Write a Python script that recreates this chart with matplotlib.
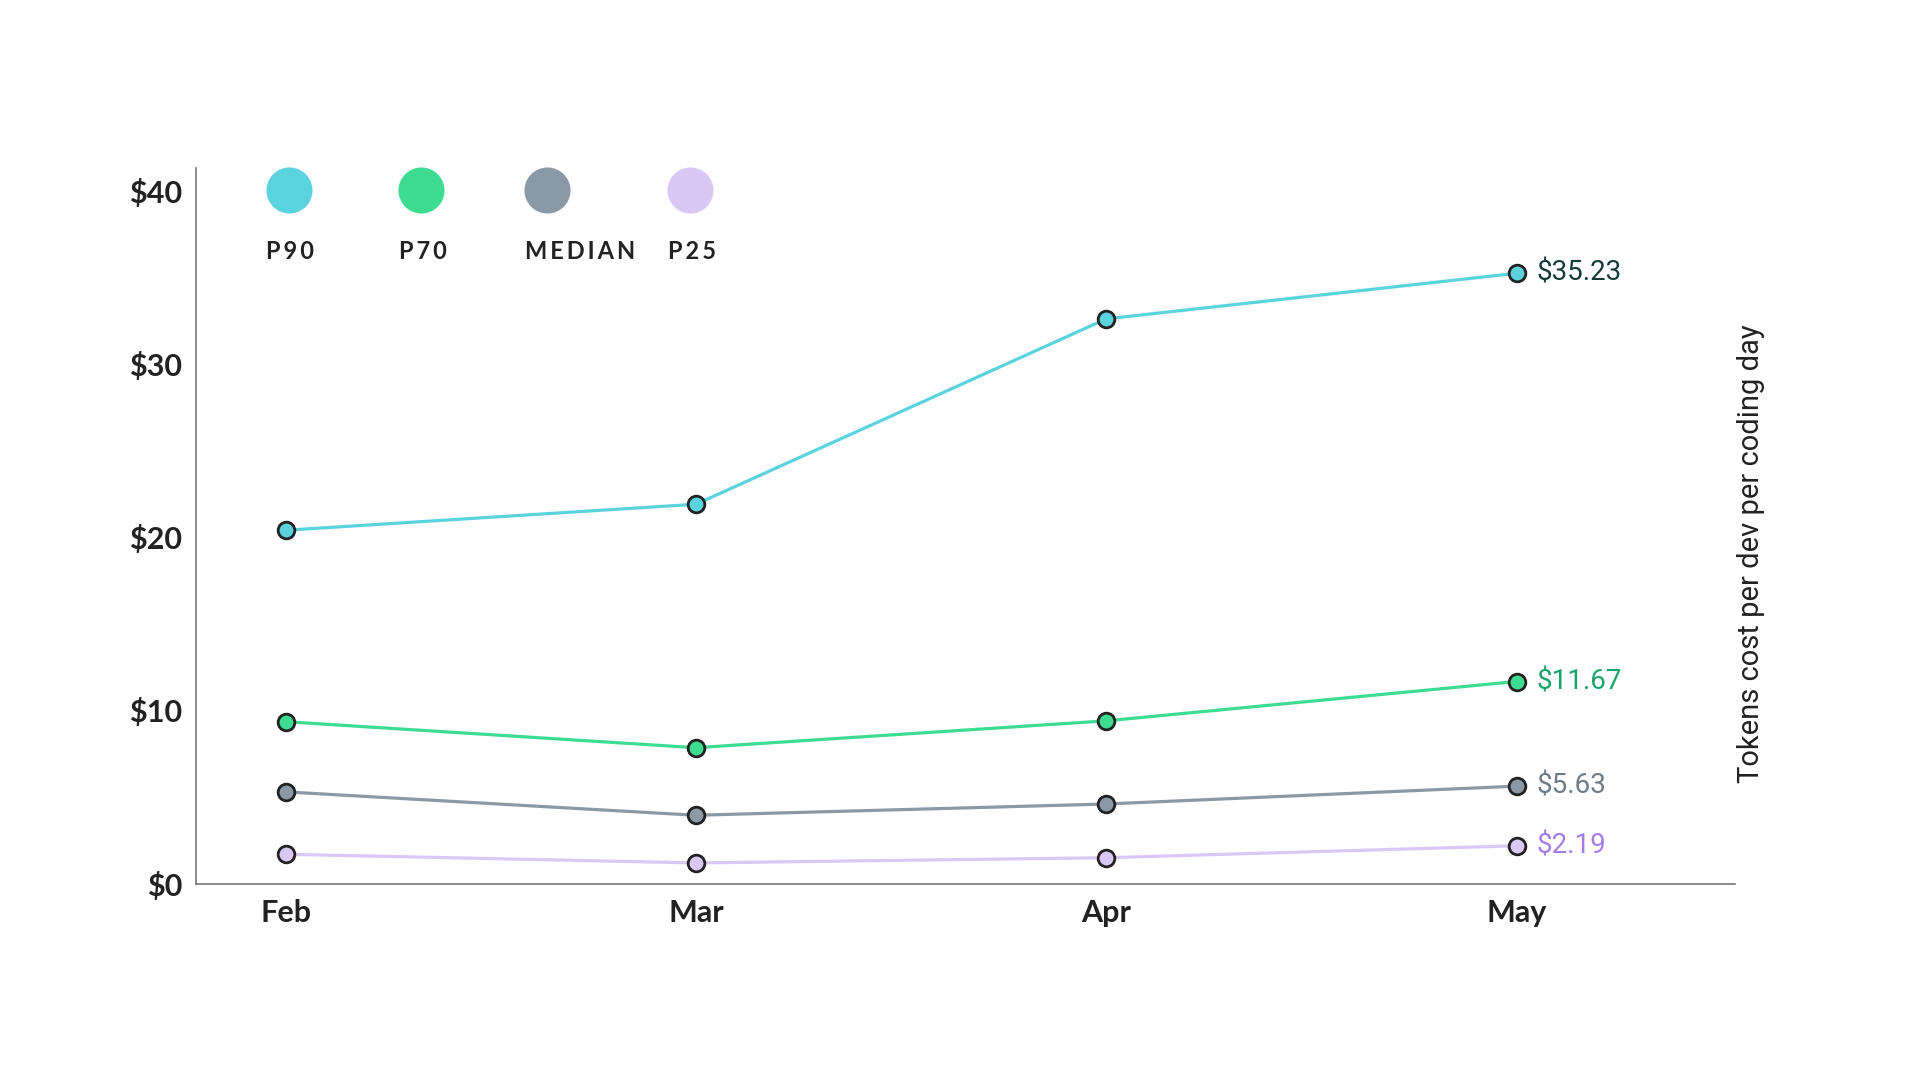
import numpy as np
import matplotlib.pyplot as plt

# months on the x axis
months = ['Feb', 'Mar', 'Apr', 'May']
# token cost per dev per coding day [$]
p90 = [20.4, 21.9, 32.6, 35.23]
p70 = [9.35, 7.85, 9.4, 11.67]
median = [5.3, 3.95, 4.6, 5.63]
p25 = [1.7, 1.2, 1.5, 2.19]
series_names = ['P90', 'P70', 'MEDIAN', 'P25']
yticks = [0, 10, 20, 30, 40]

line_colors = ['#5BD3DF', '#3DDC91', '#8B98A5', '#D9C8F5']
label_colors = ['#123C36', '#16A56B', '#6E7A87', '#A57DEA']
dark = '#222222'

fig = plt.figure(figsize=(19.2, 10.81), dpi=100)
ax = fig.add_axes([0.1022, 0.1825, 0.8014, 0.662])

x = np.arange(len(months))
for vals, lc, tc in zip([p90, p70, median, p25], line_colors, label_colors):
    ax.plot(x, vals, color=lc, lw=2.3, zorder=2)
    ax.plot(x, vals, 'o', ms=12, mfc=lc, mec=dark, mew=2.0, zorder=3, clip_on=False)
    ax.annotate('$%.2f' % vals[-1], (x[-1], vals[-1]), xytext=(14, 0),
                textcoords='offset points', va='center', ha='left',
                color=tc, fontsize=20, family='Roboto')

ax.set_xlim(-0.218, 3.532)
ax.set_ylim(0, 41.3)
ax.set_xticks(x)
ax.set_xticklabels(months, fontsize=22, fontweight='bold', family='Lato', color=dark)
ax.set_yticks(yticks)
ax.set_yticklabels(['$%d' % t for t in yticks], fontsize=22, fontweight='bold',
                   family='Lato', color=dark)
ax.tick_params(axis='both', length=0)
ax.tick_params(axis='x', pad=11)
ax.tick_params(axis='y', pad=10)

for s in ['top', 'right']:
    ax.spines[s].set_visible(False)
for s in ['left', 'bottom']:
    ax.spines[s].set_color('#777777')
    ax.spines[s].set_linewidth(1.2)

# legend drawn by hand: big dots with spaced labels under them
leg_x = [0.060, 0.146, 0.228, 0.321]
for lx, name, c in zip(leg_x, series_names, line_colors):
    ax.scatter([lx], [0.969], s=1100, color=c, transform=ax.transAxes,
               clip_on=False, zorder=4, linewidths=0)
    ax.text(lx - 0.0145, 0.884, '\u2009'.join(name), transform=ax.transAxes,
            ha='left', va='center', fontsize=17, color=dark,
            family=['Lato', 'DejaVu Sans'], fontweight='bold')

fig.text(0.912, 0.4875, 'Tokens cost per dev per coding day', rotation=90,
         ha='center', va='center', fontsize=21, family='Roboto', color=dark)

fig.savefig('out.png', dpi=100, facecolor='white')
